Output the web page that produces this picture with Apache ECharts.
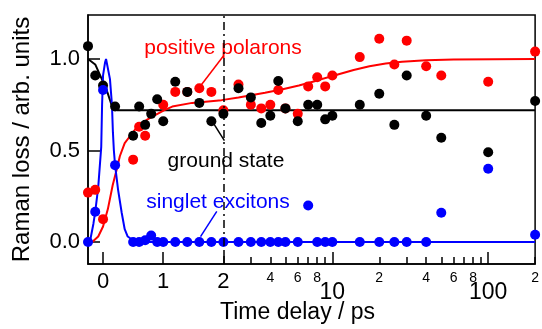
<!DOCTYPE html>
<html>
<head>
<meta charset="utf-8">
<script src="https://cdn.jsdelivr.net/npm/echarts@6/dist/echarts.min.js"></script>
<style>
  html, body { margin: 0; padding: 0; background: #fff; }
  #chart { width: 542px; height: 329px; }
</style>
</head>
<body>
<div id="chart"></div>
<script>
// data (time in ps, signal in arb. units)
var blackX = [-0.25, -0.13, 0, 0.2, 0.5, 0.6, 0.7, 0.8, 0.9, 1.0, 1.2, 1.4, 1.6, 1.8, 2.0,
  2.5, 3, 3.5, 4, 4.5, 5, 6, 7, 8, 9, 10, 15, 20, 25, 30, 40, 50, 100, 200];
var blackY = [1.07, 0.91, 0.855, 0.74, 0.58, 0.74, 0.64, 0.70, 0.78, 0.66, 0.875, 0.82, 0.76, 0.66, 0.70,
  0.84, 0.79, 0.65, 0.69, 0.88, 0.73, 0.66, 0.75, 0.75, 0.67, 0.69, 0.75, 0.81, 0.64, 0.91, 0.69, 0.57, 0.49, 0.77];

var redX = [-0.25, -0.13, 0, 0.5, 0.6, 0.7, 1.0, 1.2, 1.4, 1.6, 1.8, 2.0,
  2.5, 3, 3.5, 4, 4.5, 5, 6, 7, 8, 9, 10, 15, 20, 25, 30, 40, 50, 100, 200];
var redY = [0.27, 0.285, 0.125, 0.45, 0.63, 0.58, 0.75, 0.82, 0.82, 0.84, 0.82, 0.72,
  0.86, 0.75, 0.73, 0.75, 0.83, 0.73, 0.70, 0.85, 0.90, 0.85, 0.91, 1.01, 1.11, 0.97, 1.10, 0.96, 0.91, 0.875, 1.04];

var blueX = [-0.25, -0.13, 0, 0.2, 0.5, 0.6, 0.7, 0.8, 0.9, 1.0, 1.2, 1.4, 1.6, 1.8, 2.0,
  2.5, 3, 3.5, 4, 4.5, 5, 6, 7, 8, 9, 10, 15, 20, 25, 30, 40, 50, 100, 200];
var blueY = [0.0, 0.165, 0.83, 0.42, 0.0, 0.0, 0.01, 0.035, 0.0, 0.0, 0, 0, 0, 0, 0,
  0, 0, 0, 0, 0, 0, 0, 0.20, 0, 0, 0, 0, 0, 0, 0, 0, 0.16, 0.40, 0.04];

// fitted curves
var blackFitX = [-0.25, -0.13, -0.02, 0.07, 0.12, 0.16, 0.23, 200];
var blackFitY = [1.0, 0.97, 0.89, 0.82, 0.77, 0.73, 0.72, 0.72];

var redFitX = [-0.25, -0.18, -0.08, 0, 0.08, 0.16, 0.23, 0.28, 0.36, 0.475, 0.57, 0.74, 0.85, 1.02, 1.15, 1.48, 1.97,
  2.5, 3.7, 4.8, 6.1, 7.8, 9.9, 13.7, 17.3, 22, 28, 40, 60, 200];
var redFitY = [0, 0, 0.03, 0.085, 0.18, 0.31, 0.40, 0.47, 0.54, 0.59, 0.63, 0.67, 0.69, 0.72, 0.74, 0.76, 0.775,
  0.79, 0.815, 0.835, 0.855, 0.88, 0.905, 0.94, 0.96, 0.975, 0.985, 0.993, 0.997, 1.0];

var blueFitX = [-0.25, -0.21, -0.16, -0.13, -0.08, -0.03, -0.016, 0, 0.033, 0.05, 0.08, 0.115, 0.148, 0.164, 0.18, 0.2,
  0.25, 0.31, 0.36, 0.41, 0.475, 0.6, 200];
var blueFitY = [0, 0.015, 0.10, 0.165, 0.30, 0.52, 0.75, 0.91, 0.98, 1.0, 0.99, 0.89, 0.75, 0.6, 0.5, 0.42,
  0.285, 0.16, 0.07, 0.03, 0.015, 0, 0];

// axis ticks / labels
var xMin = -0.25, xMax = 200, yMin = -0.12, yMax = 1.24;
var majorTickX = [0, 1, 2, 10, 100];
var minorTickX = [3, 4, 5, 6, 7, 8, 9, 20, 30, 40, 50, 60, 70, 80, 90, 200];
var linLabelX = [0, 1, 2];
var decadeLabelX = [10, 100];
var minorLabelX = [4, 6, 8, 20, 40, 60, 80, 200];
var minorLabelText = ['4', '6', '8', '2', '4', '6', '8', '2'];
var yTicks = [0, 0.5, 1.0];
var tSplit = 2;

// linear up to 2 ps, log afterwards
var K = 2.59;
function tx(x) {
  return x <= tSplit ? x : tSplit + Math.log10(x / tSplit) * K;
}
function pts(xs, ys) {
  return xs.map(function (x, i) { return [tx(x), ys[i]]; });
}
function labelFor(vals, texts) {
  return function (v) {
    for (var i = 0; i < vals.length; i++) {
      if (Math.abs(tx(vals[i]) - v) < 1e-6) return texts[i];
    }
    return '';
  };
}

var FONT = 'Liberation Sans';
var chart = echarts.init(document.getElementById('chart'));

var baseX = {
  type: 'value', min: tx(xMin), max: tx(xMax), gridIndex: 0, position: 'bottom',
  splitLine: { show: false }
};

var option = {
  animation: false,
  grid: { left: 88, right: 1, top: 15, bottom: 61, show: true, borderColor: '#000', borderWidth: 1.5 },
  xAxis: [
    Object.assign({}, baseX, {
      name: 'Time delay / ps', nameLocation: 'middle', nameGap: 37,
      nameTextStyle: { fontFamily: FONT, fontSize: 23, color: '#000', padding: [0, 28, 0, 0] },
      axisLine: { onZero: false, lineStyle: { color: '#000', width: 1.5 } },
      axisTick: { inside: true, length: 12, lineStyle: { color: '#000', width: 1.5 }, customValues: majorTickX.map(tx) },
      axisLabel: { customValues: linLabelX.map(tx), margin: 7, fontFamily: FONT, fontSize: 22, color: '#000',
        formatter: labelFor(linLabelX, linLabelX.map(String)) }
    }),
    Object.assign({}, baseX, {
      axisLine: { show: false, onZero: false },
      axisTick: { inside: true, length: 7, lineStyle: { color: '#000', width: 1.5 }, customValues: minorTickX.map(tx) },
      axisLabel: { customValues: minorLabelX.map(tx), margin: 7, fontFamily: FONT, fontSize: 14, color: '#000',
        formatter: labelFor(minorLabelX, minorLabelText) }
    }),
    Object.assign({}, baseX, {
      axisLine: { show: false, onZero: false },
      axisTick: { show: false },
      axisLabel: { customValues: decadeLabelX.map(tx), margin: 17, fontFamily: FONT, fontSize: 23, color: '#000',
        formatter: labelFor(decadeLabelX, decadeLabelX.map(String)) }
    })
  ],
  yAxis: {
    type: 'value', min: yMin, max: yMax,
    name: 'Raman loss / arb. units', nameLocation: 'middle', nameGap: 54,
    nameTextStyle: { fontFamily: FONT, fontSize: 24, color: '#000' },
    splitLine: { show: false },
    axisLine: { onZero: false, lineStyle: { color: '#000', width: 1.5 } },
    axisTick: { inside: true, length: 12, lineStyle: { color: '#000', width: 1.5 }, customValues: yTicks },
    axisLabel: { customValues: yTicks, margin: 8, fontFamily: FONT, fontSize: 22, color: '#000',
      formatter: function (v) { return v.toFixed(1); } }
  },
  graphic: [
    { type: 'text', style: { text: 'positive polarons', x: 223, y: 48, fill: '#f00', font: '21px "Liberation Sans"', textAlign: 'center', textVerticalAlign: 'middle' } },
    { type: 'text', style: { text: 'ground state', x: 226, y: 161, fill: '#000', font: '21px "Liberation Sans"', textAlign: 'center', textVerticalAlign: 'middle' } },
    { type: 'text', style: { text: 'singlet excitons', x: 218, y: 202, fill: '#00f', font: '21px "Liberation Sans"', textAlign: 'center', textVerticalAlign: 'middle' } }
  ],
  series: [
    { type: 'line', data: pts(blackFitX, blackFitY), showSymbol: false, lineStyle: { color: '#000', width: 2 }, z: 2,
      markLine: { symbol: 'none', silent: true, label: { show: false },
        data: [
          [{ coord: [tx(1.82), 0.656], lineStyle: { color: '#000', width: 1.5, type: 'solid' } }, { coord: [tx(2.03), 0.554] }],
          { xAxis: tx(2), lineStyle: { color: '#000', width: 1.5, type: [8, 4, 2, 4] } }
        ] } },
    { type: 'line', data: pts(redFitX, redFitY), showSymbol: false, lineStyle: { color: '#f00', width: 2 }, z: 2,
      markLine: { symbol: 'none', silent: true, label: { show: false }, lineStyle: { color: '#f00', width: 1.5, type: 'solid' },
        data: [[{ coord: [tx(2.0), 1.016] }, { coord: [tx(1.59), 0.84] }]] } },
    { type: 'line', data: pts(blueFitX, blueFitY), showSymbol: false, lineStyle: { color: '#00f', width: 2 }, z: 2,
      markLine: { symbol: 'none', silent: true, label: { show: false }, lineStyle: { color: '#00f', width: 1.5, type: 'solid' },
        data: [[{ coord: [tx(1.89), 0.167] }, { coord: [tx(1.62), 0.03] }]] } },
    { type: 'scatter', data: pts(redX, redY), symbolSize: 10, itemStyle: { color: '#f00', opacity: 1 }, z: 3 },
    { type: 'scatter', data: pts(blackX, blackY), symbolSize: 10, itemStyle: { color: '#000', opacity: 1 }, z: 3 },
    { type: 'scatter', data: pts(blueX, blueY), symbolSize: 10, itemStyle: { color: '#00f', opacity: 1 }, z: 3 }
  ]
};
chart.setOption(option);
</script>
</body>
</html>
